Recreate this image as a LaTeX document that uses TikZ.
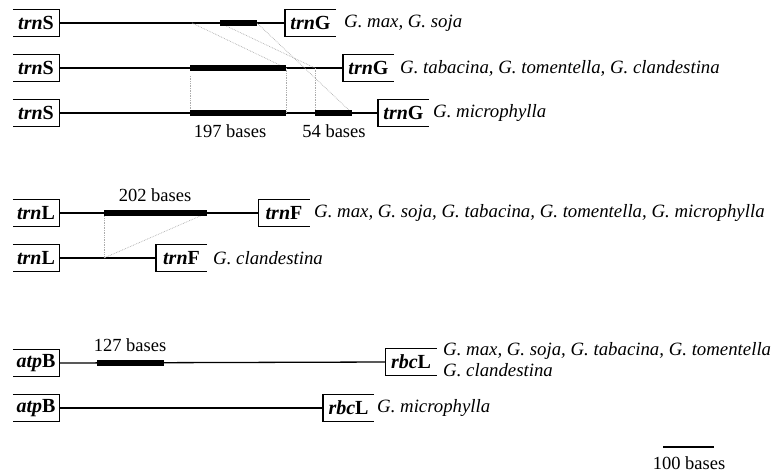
\documentclass[tikz,border=0pt]{standalone}
\usepackage{fontspec}
\setmainfont{Liberation Serif}
\begin{document}
\begin{tikzpicture}[x=1pt,y=-1pt,
  gene/.style={inner sep=0pt, minimum height=27pt, font=\fontsize{20}{21}\selectfont},
  lgene/.style={gene, minimum width=46pt},
  rgene/.style={gene, minimum width=51pt},
  species/.style={anchor=west, inner sep=0pt, font=\fontsize{18.8}{21}\selectfont\itshape},
  lbl/.style={inner sep=0pt, font=\fontsize{18.5}{20}\selectfont},
  seq/.style={line width=1.3pt},
  bar/.style={line width=5.5pt},
  guide/.style={gray!65, line width=0.7pt, densely dotted},
  edge/.style={line width=1.4pt}
]
\useasboundingbox (0,0) rectangle (783,475);

% ---------- trnS - trnG ----------
\node[lgene] (s1) at (36,23) {\textbf{\textit{trn}S}};
\node[lgene] (s2) at (36,68) {\textbf{\textit{trn}S}};
\node[lgene] (s3) at (36,113) {\textbf{\textit{trn}S}};
\node[rgene] (g1) at (310.5,23) {\textbf{\textit{trn}G}};
\node[rgene] (g2) at (368.5,68) {\textbf{\textit{trn}G}};
\node[rgene] (g3) at (403.5,113) {\textbf{\textit{trn}G}};
\node[species] (t1) at (344,23) {G. max, G. soja};
\node[species] (t2) at (400,68) {G. tabacina, G. tomentella, G. clandestina};
\node[species] (t3) at (433,113) {G. microphylla};

% ---------- trnL - trnF ----------
\node[lgene] (l1) at (36,213) {\textbf{\textit{trn}L}};
\node[lgene] (l2) at (36,258) {\textbf{\textit{trn}L}};
\node[rgene] (f1) at (284,213) {\textbf{\textit{trn}F}};
\node[rgene] (f2) at (181.5,258) {\textbf{\textit{trn}F}};
\node[species] (t4) at (314,213) {G. max, G. soja, G. tabacina, G. tomentella, G. microphylla};
\node[species] (t5) at (213,258) {G. clandestina};

% ---------- atpB - rbcL ----------
\node[lgene] (a1) at (36,363) {\textbf{\textit{atp}B}};
\node[lgene] (a2) at (36,408) {\textbf{\textit{atp}B}};
\node[rgene] (r1) at (411,362) {\textbf{\textit{rbc}L}};
\node[rgene] (r2) at (348.5,408) {\textbf{\textit{rbc}L}};
\node[species, align=left] (t6) at (443,360) {G. max, G. soja, G. tabacina, G. tomentella\\G. clandestina};
\node[species] (t7) at (377,408) {G. microphylla};

% open boxes
\foreach \n in {s1,s2,s3,l1,l2,a1,a2}
  \draw[edge] (\n.north west) -- (\n.north east) -- (\n.south east) -- (\n.south west);
\foreach \n in {g1,g2,g3,f1,f2,r1,r2}
  \draw[edge] (\n.north east) -- (\n.north west) -- (\n.south west) -- (\n.south east);

% sequence lines
\draw[seq] (s1.east) -- (g1.west);
\draw[seq] (s2.east) -- (g2.west);
\draw[seq] (s3.east) -- (g3.west);
\draw[seq] (l1.east) -- (f1.west);
\draw[seq] (l2.east) -- (f2.west);
\draw[seq] (a1.east) -- (r1.west);
\draw[seq] (a2.east) -- (r2.west);

% bar coordinates
\coordinate (b1a) at (220,23);  \coordinate (b1b) at (257,23);
\coordinate (b2a) at (190,68);  \coordinate (b2b) at (286,68);
\coordinate (b3a) at (190,113); \coordinate (b3b) at (286,113);
\coordinate (b4a) at (315,113); \coordinate (b4b) at (352,113);
\coordinate (i1) at (192,23);   \coordinate (i2) at (315,68);
\coordinate (b5a) at (104,213); \coordinate (b5b) at (207,213);
\coordinate (i3) at (104,258);
\coordinate (b6a) at (97,363);  \coordinate (b6b) at (164,363);

% guides
\draw[guide] (i1) -- (b2b);
\draw[guide] (b1a) -- (i2);
\draw[guide] (b1b) -- (b4b);
\draw[guide] ([yshift=-8pt]b2a) -- (b3a);
\draw[guide] (b2b) -- (b3b);
\draw[guide] (i2) -- (b4a);
\draw[guide] (b5a) -- (i3);
\draw[guide] (b5b) -- (i3);

% bars
\draw[bar] (b1a) -- (b1b);
\draw[bar] (b2a) -- (b2b);
\draw[bar] (b3a) -- (b3b);
\draw[bar] (b4a) -- (b4b);
\draw[bar] (b5a) -- (b5b);
\draw[bar] (b6a) -- (b6b);

% bar labels
\node[lbl] (n197) at (230,131) {197 bases};
\node[lbl] (n54) at (334,131) {54 bases};
\node[lbl] (n202) at (155,195) {202 bases};
\node[lbl] (n127) at (130,345) {127 bases};

% scale bar
\coordinate (sb1) at (663,447);
\coordinate (sb2) at (714,447);
\draw[line width=1.5pt] (sb1) -- (sb2);
\node[lbl] (n100) at (689,463) {100 bases};
\end{tikzpicture}
\end{document}
